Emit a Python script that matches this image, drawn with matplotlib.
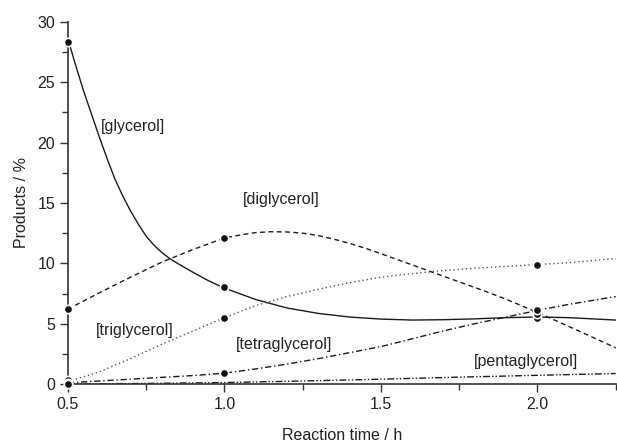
import matplotlib
matplotlib.use("Agg")
import matplotlib.pyplot as plt
from matplotlib.ticker import MultipleLocator

plt.rcParams['font.family'] = ['Liberation Sans', 'DejaVu Sans']

# measured points
t_meas = [0.5, 1.0, 2.0]
glycerol_pts = [28.3, 8.0, 5.5]
diglycerol_pts = [6.2, 12.1, 5.8]
triglycerol_pts = [0.3, 5.5, 9.9]
tetraglycerol_pts = [0.1, 0.9, 6.1]
pentaglycerol_pts = [0.0, None, None]

# fitted curves
t_gly = [0.5, 0.525, 0.55, 0.575, 0.6, 0.625, 0.65, 0.675, 0.7, 0.725, 0.75, 0.775, 0.8, 0.825,
         0.85, 0.9, 0.95, 1.0, 1.1, 1.2, 1.3, 1.4, 1.5, 1.6, 1.7, 1.8, 1.9, 2.0, 2.1, 2.25]
glycerol_fit = [28.6, 26.4, 24.3, 22.4, 20.5, 18.7, 17.0, 15.6, 14.35, 13.25, 12.25, 11.5, 10.9, 10.4,
                10.0, 9.25, 8.55, 7.95, 7.0, 6.3, 5.85, 5.55, 5.38, 5.3, 5.33, 5.4, 5.5, 5.55, 5.5, 5.3]

t_di = [0.5, 0.6, 0.7, 0.8, 0.9, 1.0, 1.05, 1.1, 1.15, 1.2, 1.25, 1.3, 1.35, 1.4, 1.45, 1.5,
        1.55, 1.6, 1.65, 1.7, 1.75, 1.8, 1.85, 1.9, 1.95, 2.0, 2.05, 2.1, 2.15, 2.2, 2.25]
diglycerol_fit = [6.2, 7.55, 8.85, 10.1, 11.15, 12.1, 12.35, 12.55, 12.62, 12.6, 12.5, 12.3, 12.0,
                  11.65, 11.25, 10.8, 10.33, 9.87, 9.4, 8.93, 8.46, 8.0, 7.52, 7.02, 6.48, 5.92,
                  5.35, 4.77, 4.18, 3.59, 3.0]

t_fit = [0.5, 0.6, 0.7, 0.8, 0.9, 1.0, 1.1, 1.2, 1.3, 1.4, 1.5, 1.6, 1.7, 1.8, 1.9, 2.0, 2.1, 2.25]
triglycerol_fit = [0.2, 1.0, 2.1, 3.3, 4.4, 5.5, 6.5, 7.25, 7.85, 8.4, 8.85, 9.15, 9.4, 9.6,
                   9.75, 9.9, 10.05, 10.4]
tetraglycerol_fit = [0.1, 0.25, 0.4, 0.55, 0.7, 0.9, 1.25, 1.65, 2.1, 2.6, 3.1, 3.75, 4.4, 5.0,
                     5.55, 6.1, 6.6, 7.25]
t_penta = [0.5, 0.75, 1.0, 1.25, 1.5, 1.75, 2.0, 2.25]
pentaglycerol_fit = [0.0, 0.05, 0.12, 0.25, 0.4, 0.57, 0.72, 0.87]

labels = ["[glycerol]", "[diglycerol]", "[triglycerol]", "[tetraglycerol]", "[pentaglycerol]"]
label_pos = [(0.604, 21.3), (1.058, 15.3), (0.588, 4.4), (1.037, 3.3), (1.798, 1.85)]

fig = plt.figure(figsize=(6.17, 4.44), dpi=100)
ax = fig.add_axes([0.110, 0.1351, 0.888, 0.8154])

lc = '#1a1a1a'
ax.plot(t_gly, glycerol_fit, color=lc, lw=1.0, ls='-')
ax.plot(t_di, diglycerol_fit, color=lc, lw=1.0, ls=(0, (3.5, 2.5)))
ax.plot(t_fit, triglycerol_fit, color='#555555', lw=1.0, ls=(0, (1, 2)))
ax.plot(t_fit, tetraglycerol_fit, color=lc, lw=1.0, ls=(0, (4.5, 2, 1, 2)))
ax.plot(t_penta, pentaglycerol_fit, color=lc, lw=1.0, ls=(0, (5, 1.5, 1, 1.5, 1, 1.5)))

for pts in [glycerol_pts, diglycerol_pts, triglycerol_pts, tetraglycerol_pts, pentaglycerol_pts]:
    xs = [t for t, v in zip(t_meas, pts) if v is not None]
    ys = [v for v in pts if v is not None]
    ax.plot(xs, ys, ls='none', marker='o', ms=6, mfc='#111111', mec='white', mew=1.2, zorder=5,
            clip_on=False)

for lab, (x, y) in zip(labels, label_pos):
    ax.text(x, y, lab, fontsize=11.5, va='center', ha='left', color='#222222')

ax.set_xlim(0.5, 2.25)
ax.set_ylim(0, 30)
ax.xaxis.set_minor_locator(MultipleLocator(0.25))
ax.yaxis.set_minor_locator(MultipleLocator(2.5))
ax.set_xticks([0.5, 1.0, 1.5, 2.0])
ax.set_xticklabels(["0.5", "1.0", "1.5", "2.0"])
ax.set_yticks([0, 5, 10, 15, 20, 25, 30])
ax.set_yticklabels(["0", "5", "10", "15", "20", "25", "30"])

for s in ['top', 'right']:
    ax.spines[s].set_visible(False)
for s in ['left', 'bottom']:
    ax.spines[s].set_color('#333333')
    ax.spines[s].set_linewidth(1.2)
ax.tick_params(which='major', direction='out', length=6, width=1.0, color='#333333',
               labelsize=11.5, labelcolor='#222222', pad=3)
ax.tick_params(which='minor', direction='out', length=4, width=1.0, color='#333333')

ax.set_xlabel("Reaction time / h", fontsize=11.5, color='#222222', labelpad=12)
ax.set_ylabel("Products / %", fontsize=11.5, color='#222222', labelpad=6)

fig.savefig("out.png", dpi=100)
